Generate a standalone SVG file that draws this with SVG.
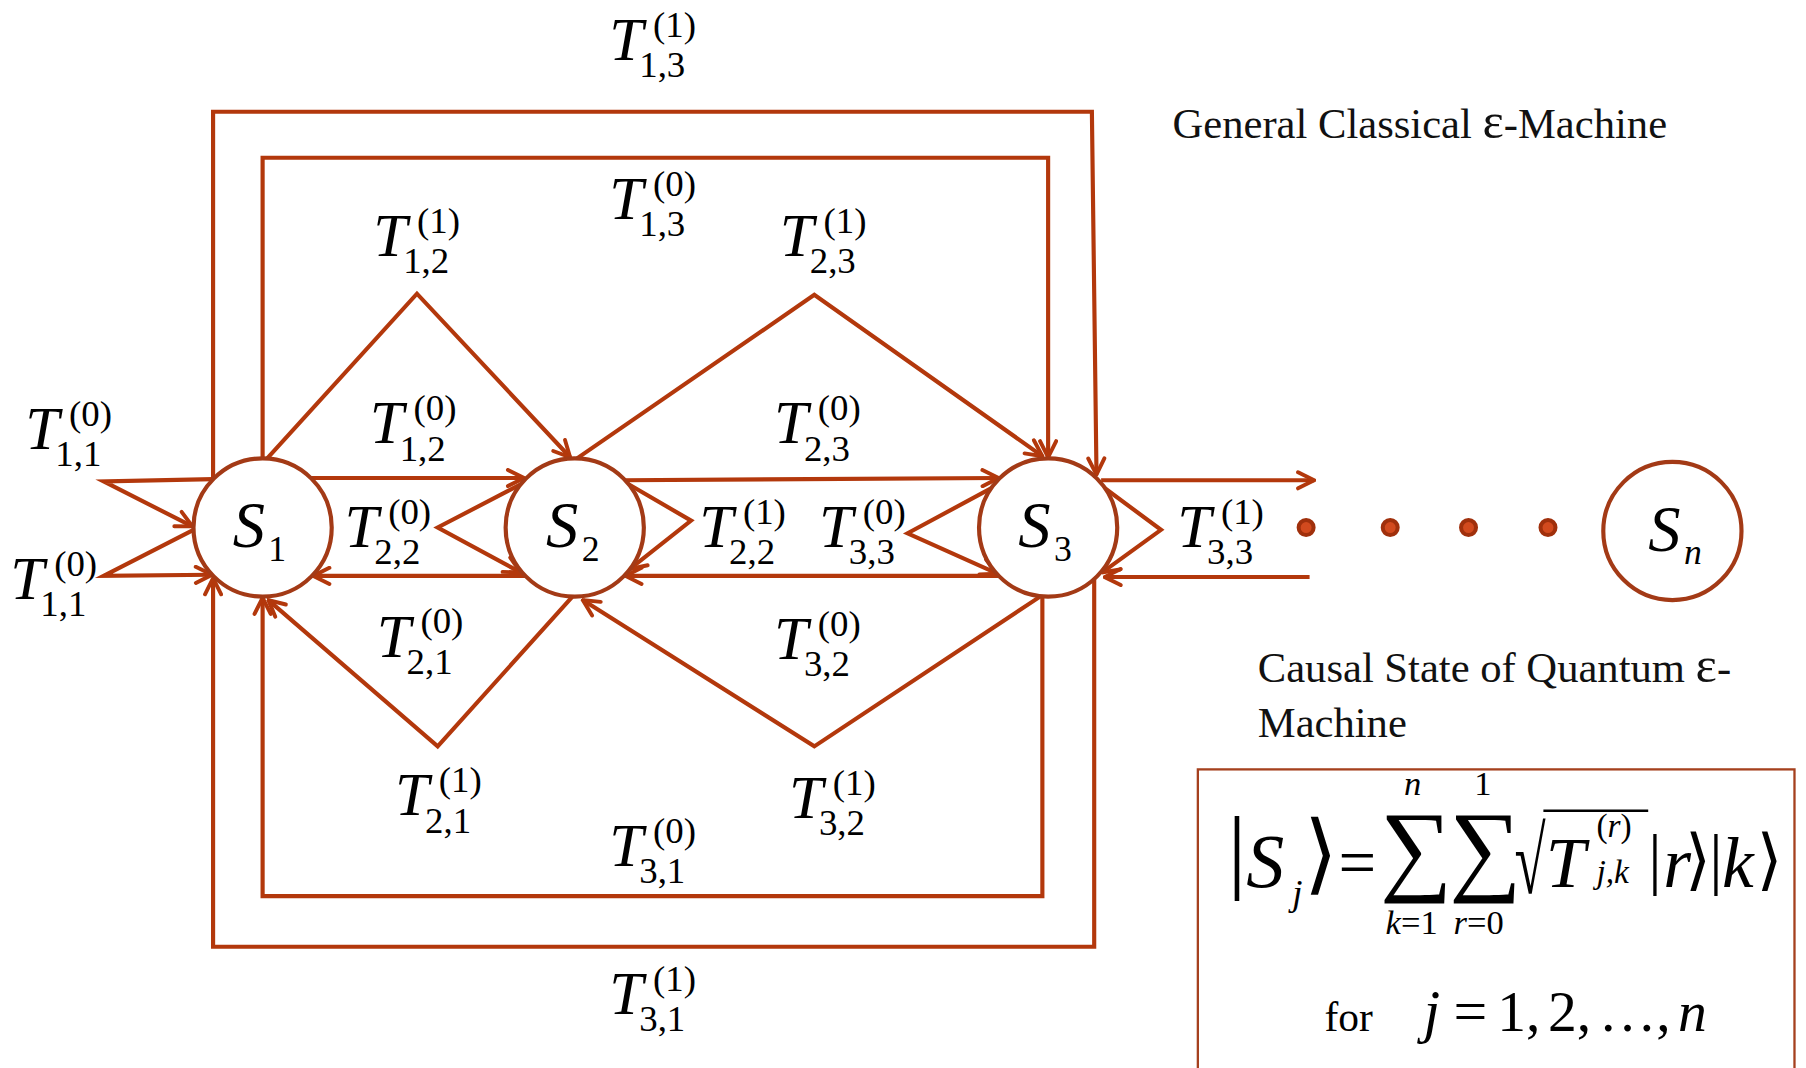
<svg xmlns="http://www.w3.org/2000/svg" width="1806" height="1068" viewBox="0 0 1806 1068">
<defs>
<style>
.e{fill:none;stroke:#B3380C;stroke-width:3.6;stroke-linejoin:miter;stroke-miterlimit:10}
.a{marker-end:url(#ah)}
.n{fill:#fff;stroke:#A33A16;stroke-width:3.6}
.d{fill:#D24A1E;stroke:#A0300C;stroke-width:3.5}
.T{font-family:"Liberation Serif","Times New Roman",serif;font-style:italic;font-size:53px;fill:#000}
.s{font-family:"Liberation Serif","Times New Roman",serif;font-size:32px;fill:#000}
.S{font-family:"Liberation Serif","Times New Roman",serif;font-style:italic;font-size:56px;fill:#000}
.ss{font-family:"Liberation Serif","Times New Roman",serif;font-size:31px;fill:#000}
.cap{font-family:"Liberation Serif","Times New Roman",serif;font-size:37px;fill:#111}
.f{font-family:"Liberation Serif","Times New Roman",serif;fill:#000}
.fi{font-family:"Liberation Serif","Times New Roman",serif;font-style:italic;fill:#000}
.br{font-family:"DejaVu Sans",sans-serif;fill:#000}
</style>
<marker id="ah" viewBox="0 0 18 18" refX="16.5" refY="9" markerWidth="18" markerHeight="18" markerUnits="userSpaceOnUse" orient="auto">
<path d="M2.5,2 L16.5,9 L2.5,16" fill="none" stroke="#B3380C" stroke-width="3.4" stroke-linecap="round"/>
</marker>
</defs>
<rect width="1806" height="1068" fill="#fff"/>
<g transform="scale(1.151786)">
<g id="connectors">
<path class="e a" d="M185,416 V97 H948 L952,412"/>
<path class="e a" d="M228,398 V137 H910 V397"/>
<path class="e a" d="M232,398 L362,255 L495,397"/>
<path class="e a" d="M501,398 L707,256 L905,396"/>
<path class="e a" d="M270,415 H455"/>
<path class="e a" d="M457,500 H272"/>
<path class="e a" d="M541,417 L867,415"/>
<path class="e a" d="M867,500 H543"/>
<path class="e a" d="M455,419 L380,458 L452,497"/>
<path class="e a" d="M545,420 L600,452 L547,494"/>
<path class="e a" d="M866,421 L788,463 L866,498"/>
<path class="e a" d="M954,420 L1008,460 L957,497"/>
<path class="e a" d="M956,417 H1141"/>
<path class="e a" d="M1137,501 H959"/>
<path class="e a" d="M185,416 L90,418 L167,457"/>
<path class="e a" d="M168,460 L90,500 L184,499"/>
<path class="e a" d="M497,518 L380,648 L233,521"/>
<path class="e a" d="M903,518 L707,648 L506,521"/>
<path class="e a" d="M905,516 V778 H228 V519"/>
<path class="e a" d="M950,503 V822 H185 V502"/>
</g>
<g id="edge-labels">
<g><text class="T" x="529" y="52">T</text><text class="s" x="567" y="32">(1)</text><text class="s" x="555" y="67">1,3</text></g>
<g><text class="T" x="529" y="190">T</text><text class="s" x="567" y="170">(0)</text><text class="s" x="555" y="205">1,3</text></g>
<g><text class="T" x="324" y="222">T</text><text class="s" x="362" y="202">(1)</text><text class="s" x="350" y="237">1,2</text></g>
<g><text class="T" x="677" y="222">T</text><text class="s" x="715" y="202">(1)</text><text class="s" x="703" y="237">2,3</text></g>
<g><text class="T" x="22" y="390">T</text><text class="s" x="60" y="370">(0)</text><text class="s" x="48" y="405">1,1</text></g>
<g><text class="T" x="9" y="520">T</text><text class="s" x="47" y="500">(0)</text><text class="s" x="35" y="535">1,1</text></g>
<g><text class="T" x="321" y="385">T</text><text class="s" x="359" y="365">(0)</text><text class="s" x="347" y="400">1,2</text></g>
<g><text class="T" x="672" y="385">T</text><text class="s" x="710" y="365">(0)</text><text class="s" x="698" y="400">2,3</text></g>
<g><text class="T" x="299" y="475">T</text><text class="s" x="337" y="455">(0)</text><text class="s" x="325" y="490">2,2</text></g>
<g><text class="T" x="607" y="475">T</text><text class="s" x="645" y="455">(1)</text><text class="s" x="633" y="490">2,2</text></g>
<g><text class="T" x="711" y="475">T</text><text class="s" x="749" y="455">(0)</text><text class="s" x="737" y="490">3,3</text></g>
<g><text class="T" x="1022" y="475">T</text><text class="s" x="1060" y="455">(1)</text><text class="s" x="1048" y="490">3,3</text></g>
<g><text class="T" x="327" y="570">T</text><text class="s" x="365" y="550">(0)</text><text class="s" x="353" y="585">2,1</text></g>
<g><text class="T" x="672" y="572">T</text><text class="s" x="710" y="552">(0)</text><text class="s" x="698" y="587">3,2</text></g>
<g><text class="T" x="343" y="708">T</text><text class="s" x="381" y="688">(1)</text><text class="s" x="369" y="723">2,1</text></g>
<g><text class="T" x="685" y="710">T</text><text class="s" x="723" y="690">(1)</text><text class="s" x="711" y="725">3,2</text></g>
<g><text class="T" x="529" y="752">T</text><text class="s" x="567" y="732">(0)</text><text class="s" x="555" y="767">3,1</text></g>
<g><text class="T" x="529" y="880">T</text><text class="s" x="567" y="860">(1)</text><text class="s" x="555" y="895">3,1</text></g>
</g>
<g id="node-S1"><circle class="n" cx="228" cy="458" r="60"/><text class="S" x="202" y="475">S</text><text class="ss" x="233" y="487">1</text></g>
<g id="node-S2"><circle class="n" cx="499" cy="458" r="60"/><text class="S" x="474" y="475">S</text><text class="ss" x="505" y="487">2</text></g>
<g id="node-S3"><circle class="n" cx="910" cy="458" r="60"/><text class="S" x="884" y="475">S</text><text class="ss" x="915" y="487">3</text></g>
<g id="node-Sn"><circle class="n" cx="1452" cy="461" r="60"/><text class="S" x="1431" y="478">S</text><text class="ss" x="1462" y="490" font-style="italic">n</text></g>
<g id="dots">
<circle class="d" cx="1134" cy="458" r="6.5"/>
<circle class="d" cx="1207" cy="458" r="6.5"/>
<circle class="d" cx="1275" cy="458" r="6.5"/>
<circle class="d" cx="1344" cy="458" r="6.5"/>
</g>
<g id="captions">
<text class="cap" x="1018" y="120">General Classical <tspan font-size="44">ε</tspan>-Machine</text>
<text class="cap" x="1092" y="592">Causal State of Quantum <tspan font-size="44">ε</tspan>-</text>
<text class="cap" x="1092" y="640">Machine</text>
</g>
<g id="formula">
<rect x="1040" y="668" width="518" height="280" fill="none" stroke="#A5401E" stroke-width="2"/>
<text class="f" x="1066" y="765" font-size="80">|</text>
<text class="fi" x="1082" y="770" font-size="66">S</text>
<text class="fi" x="1122" y="786" font-size="32">j</text>
<text class="br" x="1132" y="767" font-size="76">⟩</text>
<text class="f" x="1162" y="768" font-size="58">=</text>
<text class="f" x="1198" y="766" font-size="88">∑</text>
<text class="fi" x="1219" y="690" font-size="30">n</text>
<text class="f" x="1203" y="811" font-size="30"><tspan font-style="italic">k</tspan>=1</text>
<text class="f" x="1258" y="766" font-size="88">∑</text>
<text class="f" x="1280" y="690" font-size="30">1</text>
<text class="f" x="1262" y="811" font-size="30"><tspan font-style="italic">r</tspan>=0</text>
<text class="f" transform="translate(1315,775) scale(0.6,1)" font-size="82">√</text>
<line x1="1340" y1="704" x2="1431" y2="704" stroke="#000" stroke-width="2.2"/>
<text class="fi" x="1342" y="770" font-size="62">T</text>
<text class="f" x="1386" y="727" font-size="29">(<tspan font-style="italic">r</tspan>)</text>
<text class="fi" x="1386" y="767" font-size="29">j,k</text>
<text class="f" x="1431" y="766" font-size="58">|</text>
<text class="fi" x="1444" y="770" font-size="62">r</text>
<text class="br" x="1463" y="766" font-size="58">⟩</text>
<text class="f" x="1484" y="766" font-size="58">|</text>
<text class="fi" x="1495" y="770" font-size="62">k</text>
<text class="br" x="1525" y="766" font-size="58">⟩</text>
<text class="f" x="1150" y="895" font-size="36">for</text>
<text class="fi" x="1236" y="895" font-size="52">j</text>
<text class="f" x="1262" y="895" font-size="52">=</text>
<text class="f" x="1300" y="895" font-size="50" word-spacing="-6">1, 2, …, <tspan font-style="italic">n</tspan></text>
</g>
</g>
</svg>
